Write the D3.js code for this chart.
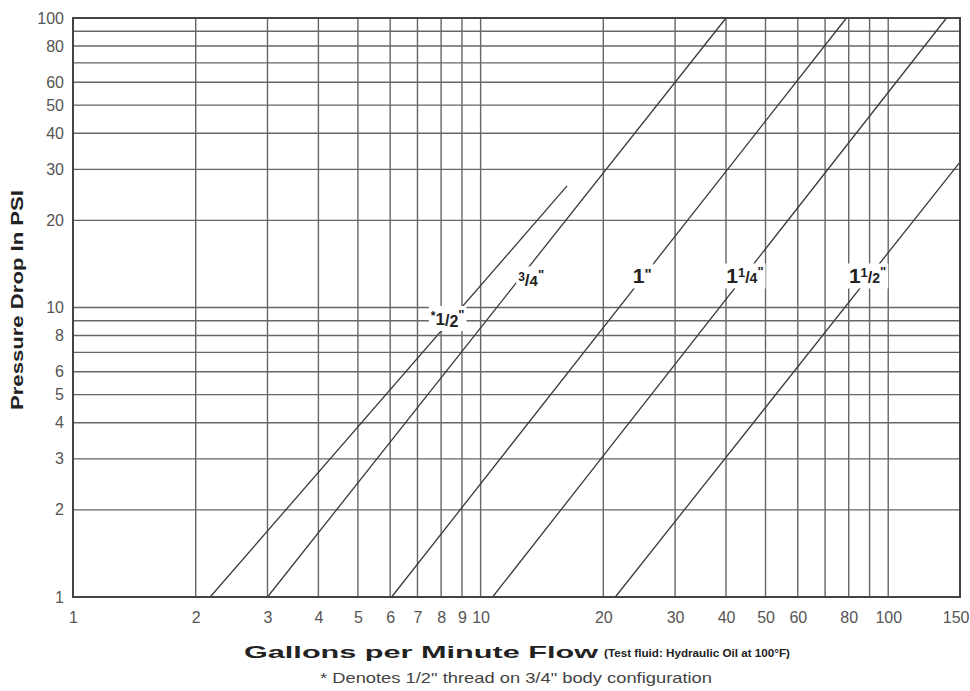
<!DOCTYPE html>
<html>
<head>
<meta charset="utf-8">
<script src="https://cdn.jsdelivr.net/npm/d3@7"></script>
<style>
  html, body { margin: 0; padding: 0; background: #fff; }
  svg { display: block; }
</style>
</head>
<body>
<svg id="chart" width="970" height="691"></svg>
<script>
// ---------------- DATA ----------------
const xGridValues = [1,2,3,4,5,6,7,8,9,10,20,30,40,50,60,70,80,90,100,150];
const yGridValues = [1,2,3,4,5,6,7,8,9,10,20,30,40,50,60,70,80,90,100];
const xTickLabels = [1,2,3,4,5,6,7,8,9,10,20,30,40,50,60,80,100,150];
const yTickLabels = [1,2,3,4,5,6,8,10,20,30,40,50,60,80,100];

const seriesNames = ['*1/2"', '3/4"', '1"', '1 1/4"', '1 1/2"'];
const flowStart = [2.17, 3.0, 6.05, 10.7, 21.4];
const psiStart  = [1, 1, 1, 1, 1];
const flowEnd   = [16.3, 40, 79, 139, 150];
const psiEnd    = [26.3, 100, 100, 100, 31.8];
// label anchor (flow, psi)
const labelFlow = [8.3, 13.3, 24.9, 44.5, 89];
const labelPsi  = [9.2, 12.6, 12.9, 12.9, 12.9];

const xTitle = "Gallons per Minute Flow";
const xSubTitle = "(Test fluid: Hydraulic Oil at 100°F)";
const yTitle = "Pressure Drop In PSI";
const footnote = '* Denotes 1/2" thread on 3/4" body configuration';

// ---------------- LAYOUT ----------------
const mLeft = 73, mRight = 960, mTop = 18, mBottom = 597;
const svg = d3.select("#chart");
const x = d3.scaleLog().domain([1, 150]).range([mLeft, mRight]);
const y = d3.scaleLog().domain([1, 100]).range([mBottom, mTop]);

const gridColor = "#666";
const fontFam = "'Liberation Sans', Arial, sans-serif";

// gridlines
svg.append("g").selectAll("line").data(xGridValues).join("line")
  .attr("x1", d => x(d)).attr("x2", d => x(d))
  .attr("y1", mTop).attr("y2", mBottom)
  .attr("stroke", gridColor).attr("stroke-width", 1.4);
svg.append("g").selectAll("line").data(yGridValues).join("line")
  .attr("y1", d => y(d)).attr("y2", d => y(d))
  .attr("x1", mLeft).attr("x2", mRight)
  .attr("stroke", gridColor).attr("stroke-width", 1.4);

// series lines
const idx = d3.range(seriesNames.length);
svg.append("g").selectAll("line").data(idx).join("line")
  .attr("x1", i => x(flowStart[i])).attr("y1", i => y(psiStart[i]))
  .attr("x2", i => x(flowEnd[i])).attr("y2", i => y(psiEnd[i]))
  .attr("stroke", "#3a3a3a").attr("stroke-width", 1.3);

// frame
svg.append("rect").attr("x", mLeft).attr("y", mTop)
  .attr("width", mRight - mLeft).attr("height", mBottom - mTop)
  .attr("fill", "none").attr("stroke", "#444").attr("stroke-width", 2);

// axes (labels only)
const xAxis = d3.axisBottom(x).tickValues(xTickLabels).tickFormat(d3.format("d")).tickSize(0).tickPadding(15);
const gx = svg.append("g").attr("transform", `translate(0,${mBottom})`).call(xAxis);
gx.select(".domain").remove();
gx.selectAll("text").attr("font-family", fontFam).attr("font-size", 16).attr("fill", "#555");
gx.selectAll(".tick").filter(d => d === 150).select("text")
  .attr("text-anchor", "end").attr("dx", 9);

const yAxis = d3.axisLeft(y).tickValues(yTickLabels).tickFormat(d3.format("d")).tickSize(0).tickPadding(9);
const gy = svg.append("g").attr("transform", `translate(${mLeft},0)`).call(yAxis);
gy.select(".domain").remove();
gy.selectAll("text").attr("font-family", fontFam).attr("font-size", 16).attr("fill", "#555");

// series labels
const labelParts = [
  [{t:"*", s:12, dy:-6}, {t:"1", s:17, dy:5}, {t:"/", s:16, dy:1}, {t:"2", s:16, dy:1}, {t:"\"", s:13, dy:-8}],
  [{t:"3", s:12, dy:-5}, {t:"/", s:17, dy:5}, {t:"4", s:15, dy:0}, {t:"\"", s:13, dy:-7}],
  [{t:"1", s:21, dy:0}, {t:"\"", s:15, dy:-4}],
  [{t:"1", s:21, dy:0}, {t:"1", s:13, dy:-6}, {t:"/", s:16, dy:6}, {t:"4", s:14, dy:0}, {t:"\"", s:13, dy:-7}],
  [{t:"1", s:21, dy:0}, {t:"1", s:13, dy:-6}, {t:"/", s:16, dy:6}, {t:"2", s:14, dy:0}, {t:"\"", s:13, dy:-7}]
];
const lg = svg.append("g");
idx.forEach(i => {
  const g = lg.append("g");
  const rect = g.append("rect").attr("fill", "#fff");
  const t = g.append("text")
    .attr("x", x(labelFlow[i])).attr("y", y(labelPsi[i]) + 8)
    .attr("text-anchor", "middle")
    .attr("font-family", fontFam).attr("font-weight", "bold").attr("fill", "#222");
  labelParts[i].forEach(p => {
    t.append("tspan").attr("font-size", p.s).attr("dy", p.dy).text(p.t);
  });
  const bb = t.node().getBBox();
  rect.attr("x", bb.x - 2).attr("y", bb.y - 1).attr("width", bb.width + 4).attr("height", bb.height + 2);
});

// axis titles
svg.append("text")
  .attr("x", 244).attr("y", 658)
  .attr("font-family", fontFam).attr("font-weight", "bold").attr("font-size", 17)
  .attr("fill", "#222")
  .attr("textLength", 354).attr("lengthAdjust", "spacingAndGlyphs")
  .text(xTitle);
svg.append("text")
  .attr("x", 604).attr("y", 657)
  .attr("font-family", fontFam).attr("font-weight", "bold").attr("font-size", 11.5)
  .attr("fill", "#222")
  .attr("textLength", 186).attr("lengthAdjust", "spacingAndGlyphs")
  .text(xSubTitle);
svg.append("text")
  .attr("transform", "translate(23,300) rotate(-90)")
  .attr("text-anchor", "middle")
  .attr("font-family", fontFam).attr("font-weight", "bold").attr("font-size", 16)
  .attr("fill", "#222")
  .attr("textLength", 220).attr("lengthAdjust", "spacingAndGlyphs")
  .text(yTitle);
svg.append("text")
  .attr("x", 320).attr("y", 683)
  .attr("font-family", fontFam).attr("font-size", 14.5)
  .attr("fill", "#444")
  .attr("textLength", 392).attr("lengthAdjust", "spacingAndGlyphs")
  .text(footnote);
</script>
</body>
</html>
